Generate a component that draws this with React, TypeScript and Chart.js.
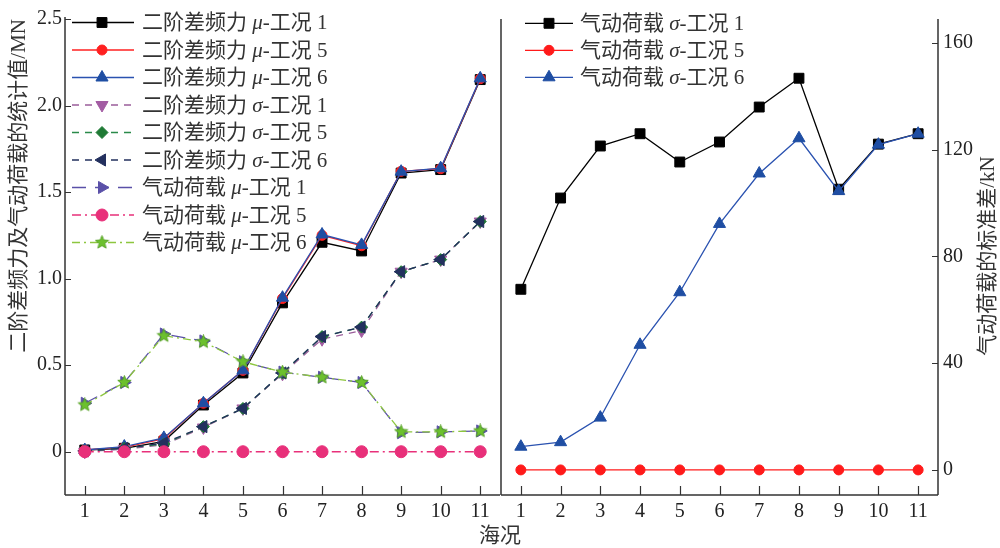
import React, { useEffect, useRef } from 'react';
import { Chart, registerables } from 'chart.js';
import { drawPoint } from 'chart.js/helpers';

Chart.register(...registerables);

// ---------- data ----------
const seaStates = ['1', '2', '3', '4', '5', '6', '7', '8', '9', '10', '11'];

const sdfMeanCase1 = [0.01, 0.02, 0.06, 0.27, 0.455, 0.86, 1.21, 1.16, 1.61, 1.63, 2.15];
const sdfMeanCase5 = [0.01, 0.025, 0.075, 0.28, 0.47, 0.885, 1.25, 1.19, 1.62, 1.635, 2.155];
const sdfMeanCase6 = [0.01, 0.03, 0.08, 0.28, 0.47, 0.89, 1.255, 1.195, 1.618, 1.638, 2.157];
const sdfStdCase1 = [0.0, 0.015, 0.04, 0.14, 0.25, 0.45, 0.65, 0.7, 1.04, 1.11, 1.33];
const sdfStdCase5 = [0.005, 0.02, 0.045, 0.145, 0.25, 0.455, 0.665, 0.72, 1.04, 1.11, 1.33];
const sdfStdCase6 = [0.005, 0.02, 0.05, 0.145, 0.25, 0.455, 0.665, 0.72, 1.04, 1.11, 1.33];
const aeroMeanCase1 = [0.28, 0.4, 0.68, 0.64, 0.52, 0.46, 0.43, 0.4, 0.11, 0.115, 0.12];
const aeroMeanCase5 = [0, 0, 0, 0, 0, 0, 0, 0, 0, 0, 0];
const aeroMeanCase6 = [0.27, 0.4, 0.67, 0.635, 0.52, 0.46, 0.43, 0.4, 0.115, 0.115, 0.12];

const aeroStdCase1 = [67.7, 101.9, 121.4, 126.0, 115.4, 122.9, 136.0, 146.8, 105.2, 122.1, 126.0];
const aeroStdCase5 = [0, 0, 0, 0, 0, 0, 0, 0, 0, 0, 0];
const aeroStdCase6 = [8.7, 10.4, 19.6, 46.9, 66.6, 92.2, 111.1, 124.3, 104.5, 121.9, 126.0];

const leftTicks = [0, 0.5, 1.0, 1.5, 2.0, 2.5];
const rightTicks = [0, 40, 80, 120, 160];

const leftLabels = [
  '二阶差频力 μ-工况 1',
  '二阶差频力 μ-工况 5',
  '二阶差频力 μ-工况 6',
  '二阶差频力 σ-工况 1',
  '二阶差频力 σ-工况 5',
  '二阶差频力 σ-工况 6',
  '气动荷载 μ-工况 1',
  '气动荷载 μ-工况 5',
  '气动荷载 μ-工况 6',
];
const rightLabels = ['气动荷载 σ-工况 1', '气动荷载 σ-工况 5', '气动荷载 σ-工况 6'];

const leftTitle = '二阶差频力及气动荷载的统计值/MN';
const rightTitle = '气动荷载的标准差/kN';
const xTitle = '海况';

const FONT = '"Liberation Serif", "Noto Sans CJK SC", serif';

function makeStar(color: string, size: number) {
  const c = document.createElement('canvas');
  c.width = size;
  c.height = size;
  const g = c.getContext('2d')!;
  const cx = size / 2, cy = size / 2, ro = size / 2 - 0.5, ri = ro * 0.45;
  g.beginPath();
  for (let i = 0; i < 10; i++) {
    const r = i % 2 === 0 ? ro : ri;
    const a = -Math.PI / 2 + (i * Math.PI) / 5;
    const px = cx + r * Math.cos(a), py = cy + r * Math.sin(a);
    if (i === 0) g.moveTo(px, py); else g.lineTo(px, py);
  }
  g.closePath();
  g.fillStyle = color;
  g.fill();
  g.strokeStyle = '#4f9a1f';
  g.lineWidth = 0.8;
  g.stroke();
  return c;
}

function ds(label: string, data: number[], color: string, markerColor: string, style: any, radius: number, rotation: number, dash: number[], order: number) {
  return {
    label,
    data,
    borderColor: color,
    backgroundColor: markerColor,
    borderWidth: 1.3,
    borderDash: dash,
    pointStyle: style,
    pointRadius: radius,
    pointRotation: rotation,
    pointBackgroundColor: markerColor,
    pointBorderColor: markerColor,
    pointBorderWidth: 1,
    tension: 0,
    fill: false,
    order,
  };
}

function drawRich(ctx: CanvasRenderingContext2D, text: string, x: number, y: number, size: number) {
  const parts = text.split(/([μσ])/);
  let cx = x;
  for (const p of parts) {
    if (!p) continue;
    const italic = p === 'μ' || p === 'σ';
    ctx.font = `${italic ? 'italic ' : ''}${size}px ${FONT}`;
    ctx.fillText(p, cx, y);
    cx += ctx.measureText(p).width;
  }
}

function decorPlugin(cfg: {
  side: 'left' | 'right';
  legend: { x0: number; x1: number; xm: number; xt: number; y0: number; dy: number };
  divider: boolean;
  extra: (ctx: CanvasRenderingContext2D, chart: any) => void;
}) {
  return {
    id: 'decor',
    afterDraw(chart: any) {
      const ctx: CanvasRenderingContext2D = chart.ctx;
      const { left, right, top, bottom } = chart.chartArea;
      const xs = chart.scales.x, ys = chart.scales.y;
      ctx.save();
      // spines
      ctx.strokeStyle = '#333';
      ctx.lineWidth = 1.5;
      ctx.setLineDash([]);
      ctx.beginPath();
      ctx.moveTo(left, bottom);
      ctx.lineTo(right, bottom);
      if (cfg.side === 'left') {
        ctx.moveTo(left, top - 2);
        ctx.lineTo(left, bottom);
      } else {
        ctx.moveTo(right, top);
        ctx.lineTo(right, bottom);
      }
      if (cfg.divider) {
        ctx.moveTo(left, top);
        ctx.lineTo(left, bottom);
      }
      ctx.stroke();
      // inward ticks
      ctx.lineWidth = 1.2;
      ctx.beginPath();
      xs.ticks.forEach((_: any, i: number) => {
        const px = Math.round(xs.getPixelForTick(i)) + 0.5;
        ctx.moveTo(px, bottom);
        ctx.lineTo(px, bottom - 9);
      });
      ys.ticks.forEach((_: any, i: number) => {
        const py = Math.round(ys.getPixelForTick(i)) + 0.5;
        if (cfg.side === 'left') {
          ctx.moveTo(left, py);
          ctx.lineTo(left + 6, py);
        } else {
          ctx.moveTo(right, py);
          ctx.lineTo(right - 6, py);
        }
      });
      ctx.stroke();
      // legend
      const L = cfg.legend;
      chart.data.datasets.forEach((d: any, i: number) => {
        const y = L.y0 + i * L.dy;
        ctx.strokeStyle = d.borderColor;
        ctx.lineWidth = d.borderWidth;
        ctx.setLineDash(d.borderDash || []);
        ctx.beginPath();
        ctx.moveTo(L.x0, y);
        ctx.lineTo(L.x1, y);
        ctx.stroke();
        ctx.setLineDash([]);
        ctx.fillStyle = d.pointBackgroundColor;
        ctx.strokeStyle = d.pointBorderColor;
        ctx.lineWidth = 1;
        drawPoint(ctx, { pointStyle: d.pointStyle, rotation: d.pointRotation, radius: d.pointRadius, borderWidth: 1 } as any, L.xm, y);
        ctx.fillStyle = '#333';
        ctx.textBaseline = 'middle';
        ctx.textAlign = 'left';
        drawRich(ctx, d.label, L.xt, y + 1, 21);
      });
      cfg.extra(ctx, chart);
      ctx.restore();
    },
  };
}

export default function App() {
  const leftRef = useRef<HTMLCanvasElement>(null);
  const rightRef = useRef<HTMLCanvasElement>(null);

  useEffect(() => {
    const star = makeStar('#6cc02e', 15);
    const dashS = [7, 6];
    const leftDatasets = [
      ds(leftLabels[0], sdfMeanCase1, '#000000', '#000000', 'rect', 7, 0, [], 9),
      ds(leftLabels[1], sdfMeanCase5, '#ff2020', '#ff2020', 'circle', 5, 0, [], 8),
      ds(leftLabels[2], sdfMeanCase6, '#2a52b0', '#1f4ea3', 'triangle', 7, 0, [], 7),
      ds(leftLabels[3], sdfStdCase1, '#9a5d9a', '#a35ca3', 'triangle', 7, 180, dashS, 6),
      ds(leftLabels[4], sdfStdCase5, '#2a8a4a', '#1f7a35', 'rectRot', 6, 0, dashS, 5),
      ds(leftLabels[5], sdfStdCase6, '#23305e', '#23305e', 'triangle', 7, -90, dashS, 4),
      ds(leftLabels[6], aeroMeanCase1, '#5a50a8', '#5a50a8', 'triangle', 7, 90, [14, 9], 3),
      ds(leftLabels[7], aeroMeanCase5, '#e8307a', '#e8307a', 'circle', 6, 0, [9, 4, 2, 4], 2),
      ds(leftLabels[8], aeroMeanCase6, '#8dc63f', '#6cc02e', star, 7, 0, [8, 4, 2, 4], 1),
    ];
    const rightDatasets = [
      ds(rightLabels[0], aeroStdCase1, '#000000', '#000000', 'rect', 7, 0, [], 3),
      ds(rightLabels[1], aeroStdCase5, '#ff1a1a', '#ff1a1a', 'circle', 5, 0, [], 2),
      ds(rightLabels[2], aeroStdCase6, '#2a52b0', '#1f4ea3', 'triangle', 7, 0, [], 1),
    ];

    const tickFont = { family: FONT, size: 20 };

    const leftChart = new Chart(leftRef.current!, {
      type: 'line',
      data: { labels: seaStates, datasets: leftDatasets as any },
      options: {
        responsive: false,
        animation: false,
        layout: { padding: { left: 0, right: 500, top: 19, bottom: 0 } },
        plugins: { legend: { display: false }, tooltip: { enabled: false } },
        scales: {
          x: {
            type: 'category',
            offset: true,
            grid: { display: false, drawTicks: false },
            border: { display: false },
            ticks: { color: '#222', font: tickFont, padding: 5, maxRotation: 0, autoSkip: false },
            afterFit(s: any) { s.height = 53; },
          },
          y: {
            type: 'linear',
            min: -0.25,
            max: 2.5,
            grid: { display: false, drawTicks: false },
            border: { display: false },
            ticks: {
              color: '#222',
              font: tickFont,
              padding: 3,
              callback: (v: any) => (Number(v) === 0 ? '0' : Number(v).toFixed(1)),
            },
            afterBuildTicks(s: any) { s.ticks = leftTicks.map((v) => ({ value: v })); },
            afterFit(s: any) { s.width = 65; },
          },
        },
      },
      plugins: [
        decorPlugin({
          side: 'left',
          legend: { x0: 72, x1: 134, xm: 102, xt: 142, y0: 22.5, dy: 27.5 },
          divider: false,
          extra: (ctx) => {
            ctx.fillStyle = '#333';
            ctx.font = `21px ${FONT}`;
            ctx.textBaseline = 'middle';
            ctx.textAlign = 'center';
            ctx.fillText(xTitle, 500, 536);
            ctx.save();
            ctx.translate(19, 19);
            ctx.rotate(-Math.PI / 2);
            ctx.textAlign = 'right';
            ctx.fillText(leftTitle, 0, 0);
            ctx.restore();
          },
        }) as any,
      ],
    });

    const rightChart = new Chart(rightRef.current!, {
      type: 'line',
      data: { labels: seaStates, datasets: rightDatasets as any },
      options: {
        responsive: false,
        animation: false,
        layout: { padding: { left: 501, right: 0, top: 19, bottom: 0 } },
        plugins: { legend: { display: false }, tooltip: { enabled: false } },
        scales: {
          x: {
            type: 'category',
            offset: true,
            grid: { display: false, drawTicks: false },
            border: { display: false },
            ticks: { color: '#222', font: tickFont, padding: 5, maxRotation: 0, autoSkip: false },
            afterFit(s: any) { s.height = 53; },
          },
          y: {
            type: 'linear',
            position: 'right',
            min: -9.4,
            max: 169,
            grid: { display: false, drawTicks: false },
            border: { display: false },
            ticks: { color: '#222', font: tickFont, padding: 5 },
            afterBuildTicks(s: any) { s.ticks = rightTicks.map((v) => ({ value: v })); },
            afterFit(s: any) { s.width = 62; },
          },
        },
      },
      plugins: [
        decorPlugin({
          side: 'right',
          legend: { x0: 525, x1: 573, xm: 549, xt: 580, y0: 23.3, dy: 27 },
          divider: true,
          extra: (ctx) => {
            ctx.fillStyle = '#333';
            ctx.font = `21px ${FONT}`;
            ctx.textBaseline = 'middle';
            ctx.textAlign = 'center';
            ctx.save();
            ctx.translate(988, 256);
            ctx.rotate(-Math.PI / 2);
            ctx.fillText(rightTitle, 0, 0);
            ctx.restore();
          },
        }) as any,
      ],
    });

    return () => {
      leftChart.destroy();
      rightChart.destroy();
    };
  }, []);

  return (
    <div style={{ position: 'fixed', left: 0, top: 0, width: 1000, height: 548, background: '#fff' }}>
      <canvas ref={leftRef} width={1000} height={548} style={{ position: 'absolute', left: 0, top: 0 }} />
      <canvas ref={rightRef} width={1000} height={548} style={{ position: 'absolute', left: 0, top: 0 }} />
    </div>
  );
}
